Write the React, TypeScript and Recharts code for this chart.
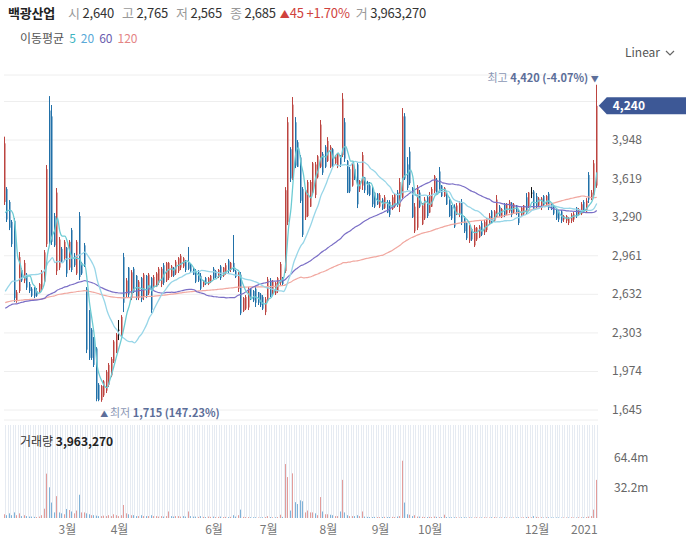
import React from "react";
import { ComposedChart, Bar, Line, XAxis, YAxis, CartesianGrid, ReferenceDot } from "recharts";

// 일봉 [시가, 고가, 저가, 종가]
const candles: [number, number, number, number][] = [
  [3420, 3977, 3394, 3920], [3530, 3547, 3249, 3270], [3420, 3436, 3180, 3200], [3250, 3266, 3036, 3060],
  [3260, 3283, 2566, 2600], [2580, 2669, 2560, 2650], [2660, 2993, 2643, 2950], [2840, 2856, 2737, 2750],
  [2750, 2925, 2728, 2900], [2800, 2814, 2669, 2690], [2720, 2737, 2643, 2660], [2680, 2694, 2609, 2620],
  [2680, 2694, 2600, 2615], [2660, 2686, 2610, 2620], [2650, 2728, 2643, 2720], [2690, 2839, 2669, 2820],
  [2740, 3010, 2728, 2990], [3060, 3735, 3036, 3700], [4200, 4323, 3053, 3100], [4150, 4247, 3053, 3080],
  [3300, 3326, 3036, 3050], [2830, 3539, 2797, 3500], [2860, 3121, 2839, 3100], [3020, 3036, 2899, 2910],
  [2940, 3095, 2925, 3080], [3030, 3036, 2780, 2810], [2860, 3095, 2839, 3080], [3180, 3198, 2822, 2840],
  [2960, 2985, 2865, 2880], [2810, 3095, 2797, 3080], [3300, 3334, 2754, 2780], [2900, 2908, 2797, 2810],
  [3050, 3070, 2865, 2880], [2680, 2694, 2131, 2160], [2480, 2498, 2072, 2090], [2330, 2344, 2072, 2090],
  [2250, 2268, 2012, 2030], [2170, 2182, 1720, 1740], [1860, 1875, 1720, 1730], [1730, 1858, 1715, 1850],
  [1770, 1900, 1756, 1890], [1810, 1986, 1790, 1970], [1860, 2046, 1841, 2030], [1940, 2097, 1926, 2080],
  [2060, 2242, 2046, 2230], [2140, 2302, 2131, 2290], [2330, 2413, 2242, 2330], [2290, 2455, 2268, 2440],
  [2950, 2985, 2481, 2560], [2640, 2771, 2609, 2750], [2860, 2865, 2609, 2630], [2600, 2839, 2583, 2820],
  [2850, 2865, 2643, 2650], [2790, 2797, 2583, 2600], [2600, 2754, 2583, 2740], [2770, 2780, 2566, 2590],
  [2610, 2814, 2583, 2800], [2790, 2797, 2600, 2620], [2640, 2814, 2626, 2800], [2770, 2780, 2473, 2500],
  [2690, 2797, 2686, 2780], [2700, 2822, 2694, 2810], [2730, 2865, 2711, 2850], [2720, 2865, 2694, 2850],
  [2880, 2899, 2711, 2730], [2750, 2908, 2737, 2900], [2770, 2908, 2754, 2900], [2790, 2882, 2780, 2870],
  [2860, 2865, 2780, 2790], [2810, 2925, 2797, 2910], [2830, 2950, 2814, 2940], [2860, 2976, 2839, 2960],
  [2870, 2950, 2856, 2940], [2910, 2925, 2822, 2840], [2900, 3036, 2839, 2850], [2890, 2899, 2814, 2830],
  [2850, 2865, 2797, 2800], [2830, 2848, 2728, 2740], [2820, 2839, 2737, 2750], [2790, 2814, 2669, 2680],
  [2710, 2754, 2694, 2750], [2770, 2780, 2711, 2720], [2720, 2780, 2711, 2770], [2740, 2797, 2728, 2790],
  [2850, 2865, 2754, 2770], [2830, 2839, 2771, 2780], [2780, 2848, 2771, 2840], [2870, 2882, 2754, 2770],
  [2790, 2865, 2780, 2860], [2810, 2899, 2800, 2880], [2920, 2933, 2814, 2830], [2840, 2908, 2822, 2900],
  [2900, 3138, 2822, 2830], [2830, 2839, 2771, 2780], [2680, 2822, 2652, 2810], [2800, 2822, 2455, 2470],
  [2490, 2609, 2481, 2600], [2510, 2626, 2498, 2610], [2520, 2694, 2498, 2680], [2680, 2686, 2583, 2600],
  [2660, 2669, 2566, 2580], [2680, 2694, 2524, 2560], [2650, 2652, 2541, 2560], [2630, 2643, 2524, 2540],
  [2610, 2626, 2498, 2510], [2480, 2609, 2455, 2590], [2580, 2780, 2566, 2760], [2750, 2771, 2609, 2620],
  [2640, 2754, 2626, 2740], [2640, 2737, 2626, 2730], [2660, 2780, 2643, 2770], [2730, 2908, 2711, 2890],
  [2770, 2780, 2711, 2720], [2830, 3547, 2814, 3520], [3250, 4144, 3223, 4100], [3870, 3888, 3590, 3620],
  [3630, 4315, 3607, 4250], [4100, 4144, 3709, 3730], [3930, 3948, 3718, 3720], [3800, 3820, 3411, 3430],
  [3530, 3547, 3121, 3140], [3290, 3539, 3266, 3520], [3300, 3607, 3291, 3590], [3380, 3607, 3377, 3590],
  [3500, 3761, 3479, 3750], [3480, 3761, 3453, 3740], [3630, 3820, 3620, 3810], [3720, 4119, 3709, 4080],
  [3830, 3846, 3650, 3670], [3890, 3905, 3709, 3720], [3770, 3973, 3761, 3940], [3720, 3905, 3710, 3890],
  [3870, 3880, 3709, 3720], [3750, 3820, 3735, 3810], [3730, 3837, 3709, 3830], [3810, 3820, 3718, 3740],
  [3820, 4349, 3803, 4300], [4100, 4136, 3761, 3790], [3770, 3778, 3496, 3500], [3700, 3718, 3496, 3510],
  [3560, 3752, 3550, 3740], [3700, 3718, 3607, 3620], [3740, 3752, 3368, 3400], [3530, 3607, 3505, 3600],
  [3560, 3846, 3522, 3820], [3630, 3633, 3496, 3520], [3590, 3600, 3479, 3490], [3560, 3590, 3470, 3480],
  [3540, 3547, 3377, 3400], [3500, 3505, 3368, 3380], [3490, 3496, 3394, 3400], [3380, 3496, 3368, 3480],
  [3440, 3453, 3351, 3360], [3370, 3479, 3360, 3460], [3420, 3436, 3325, 3330], [3420, 3436, 3291, 3310],
  [3360, 3479, 3351, 3460], [3380, 3496, 3370, 3480], [3500, 3522, 3377, 3400], [3380, 3624, 3334, 3590],
  [3460, 4221, 3450, 4150], [4150, 4178, 3607, 3620], [3740, 3803, 3522, 3540], [3850, 3888, 3564, 3580],
  [3540, 3547, 3283, 3290], [3170, 3411, 3155, 3380], [3200, 3564, 3180, 3540], [3500, 3522, 3368, 3380],
  [3230, 3411, 3223, 3390], [3280, 3462, 3266, 3440], [3460, 3479, 3283, 3300], [3330, 3505, 3325, 3480],
  [3380, 3547, 3377, 3530], [3510, 3650, 3496, 3640], [3610, 3624, 3479, 3490], [3680, 3718, 3496, 3500],
  [3560, 3564, 3462, 3470], [3470, 3547, 3462, 3540], [3480, 3496, 3394, 3400], [3430, 3462, 3291, 3300],
  [3380, 3394, 3266, 3280], [3380, 3400, 3198, 3210], [3320, 3411, 3308, 3390], [3320, 3428, 3291, 3410],
  [3420, 3445, 3223, 3240], [3290, 3300, 3155, 3170], [3240, 3245, 3095, 3110], [3090, 3223, 3070, 3210],
  [3190, 3198, 3087, 3100], [3050, 3223, 3036, 3200], [3100, 3206, 3087, 3200], [3120, 3223, 3112, 3210],
  [3240, 3257, 3129, 3140], [3160, 3266, 3138, 3250], [3180, 3283, 3163, 3270], [3230, 3325, 3223, 3300],
  [3340, 3351, 3240, 3250], [3260, 3351, 3249, 3340], [3290, 3479, 3283, 3440], [3380, 3394, 3291, 3300],
  [3290, 3368, 3283, 3360], [3400, 3411, 3291, 3300], [3320, 3411, 3308, 3400], [3340, 3436, 3325, 3420],
  [3410, 3419, 3291, 3310], [3330, 3411, 3325, 3400], [3390, 3394, 3308, 3320], [3340, 3351, 3223, 3240],
  [3300, 3377, 3291, 3370], [3320, 3394, 3308, 3390], [3460, 3496, 3317, 3330], [3370, 3505, 3368, 3500],
  [3500, 3547, 3453, 3500], [3510, 3522, 3351, 3360], [3470, 3496, 3368, 3380], [3390, 3462, 3377, 3450],
  [3370, 3462, 3351, 3450], [3470, 3479, 3377, 3390], [3390, 3479, 3377, 3470], [3490, 3505, 3351, 3370],
  [3400, 3411, 3351, 3360], [3380, 3394, 3308, 3320], [3350, 3355, 3266, 3280], [3340, 3351, 3249, 3270],
  [3340, 3351, 3240, 3260], [3270, 3308, 3249, 3300], [3260, 3308, 3240, 3300], [3240, 3291, 3223, 3280],
  [3260, 3325, 3240, 3310], [3270, 3334, 3249, 3320], [3370, 3377, 3283, 3300], [3320, 3368, 3308, 3360],
  [3320, 3419, 3308, 3400], [3420, 3436, 3325, 3340], [3340, 3453, 3334, 3430], [3650, 3675, 3411, 3440],
  [3450, 3522, 3436, 3500], [3480, 3778, 3462, 3750], [3560, 4420, 3540, 4240],
];

// 거래량 (백만 주)
const volumes = [
  4, 3, 5, 3, 6, 3, 5, 2, 3, 2, 1.5, 1.5, 1.2, 1, 1.5, 3, 10,
  47.7, 33, 16.6, 6, 23.5, 6, 5, 4, 9.7, 8.6, 7, 5, 8, 25, 6, 6, 5, 4,
  3, 3, 2.5, 2, 2, 2.5, 2, 3, 2, 4, 3, 2, 3,
  14, 5, 4, 3, 3, 2, 2, 3, 2, 2, 2, 3,
  2, 2, 1.5, 2, 1.5, 2, 7, 2, 1.5, 2, 2, 1.5, 2, 1.5, 7, 2, 1.5, 1.5, 1.2, 2,
  1.2, 1, 1.5, 1.2, 1.5, 1, 1.2, 1.5, 1, 1.2, 1, 1.2, 3, 1.5,
  3, 9, 1.2, 1, 1, 0.8, 0.8, 0.8, 0.6, 0.6, 0.8, 1, 2, 1, 0.8, 0.8, 1, 3.5, 1.2,
  58, 44, 8, 48, 17, 15, 19, 18, 6, 8, 6, 6, 5, 3, 22.5, 7, 4, 4, 3.5, 3, 2, 2, 7,
  41, 6, 3, 2, 2, 2, 3, 2, 7, 1.5, 1.2, 1, 1, 1.2, 1, 1, 1, 1.2, 1, 1, 1.2, 1, 1.5, 2, 61.6, 16.6,
  4, 3.5, 2, 3, 1.5, 1.5, 1.2, 1, 1, 1.2, 1, 1.5, 1.2, 1, 1, 3.5,
  1, 0.8, 0.8, 0.8, 0.8, 0.6, 0.8, 0.8, 0.6, 0.8, 0.6, 0.6, 0.8, 0.6, 0.6, 0.8, 0.6, 0.6, 0.8, 1,
  0.6, 0.6, 0.6, 0.8, 0.6, 0.6, 0.5, 0.6, 0.6, 0.8, 0.6, 0.8, 1, 1.2, 0.8,
  2, 1.2, 0.8, 0.8, 0.6, 0.8, 0.8, 0.6, 0.6, 0.6, 0.6, 0.5, 0.6, 0.6, 0.6, 0.8, 0.6, 0.6, 0.8, 0.8,
  0.8, 1, 1.5, 2, 9, 41,
];

const monthTicks = [25, 46, 84, 106, 130, 151, 171, 214, 233];
const monthLabels = ["3월", "4월", "6월", "7월", "8월", "9월", "10월", "12월", "2021"];
const priceTicks = [1645, 1974, 2303, 2632, 2961, 3290, 3619, 3948, 4277];
const volTicks = [32.2, 64.4];

// 이동평균: 기간, 차트 시작 전 평균 수준, 색
const maPeriods = [5, 20, 60, 120];
const maSeeds = [3180, 2590, 2490, 2550];
const maColors = ["#6ccbd3", "#98d6e8", "#7b6fc6", "#f1a8a0"];
const legendColors = ["#3db4bf", "#5aa9d8", "#6a5cae", "#e48585"];

const lastPrice = 4240;
const highMark = { idx: 238, price: 4420, label: "4,420 (-4.07%)" };
const lowMark = { idx: 39, price: 1715, label: "1,715 (147.23%)" };

const UP = "#bc4440";
const DOWN = "#2170a8";
const FONT = '"Noto Sans CJK KR", "Noto Sans", sans-serif';

const movingAvg = (period: number, seed: number) =>
  candles.map((_, i) => {
    let sum = 0;
    for (let k = i - period + 1; k <= i; k++) sum += k < 0 ? seed : candles[k][3];
    return sum / period;
  });

const mas = maPeriods.map((p, j) => movingAvg(p, maSeeds[j]));

const rows = candles.map(([o, h, l, c], i) => ({
  idx: i,
  o, h, l, c,
  range: [l, h],
  vol: volumes[i],
  volUp: i === 0 ? c >= o : c >= candles[i - 1][3],
  ma5: mas[0][i],
  ma20: mas[1][i],
  ma60: mas[2][i],
  ma120: mas[3][i],
}));

const W = 686;
const AXIS_W = 88;
const LEFT = 4;
const plotRight = W - AXIS_W;
const band = (plotRight - LEFT) / candles.length;
const stripes = candles.map((_, i) => Math.round(LEFT + (i + 0.5) * band) + 0.5);

const Candle = (p: any) => {
  const { x, y, width, height, payload } = p;
  const top = Math.min(y, y + height);
  const hgt = Math.abs(height);
  const span = payload.h - payload.l || 1;
  const py = (v: number) => top + ((payload.h - v) / span) * hgt;
  const cx = Math.round(x + width / 2);
  const color = payload.c > payload.o ? UP : payload.c < payload.o ? DOWN : "#111";
  const bTop = py(Math.max(payload.o, payload.c));
  const bBot = py(Math.min(payload.o, payload.c));
  return (
    <g>
      <line x1={cx - 0.5} x2={cx - 0.5} y1={top} y2={top + hgt} stroke={color} strokeWidth={1} />
      <rect x={cx - 1} y={bTop} width={1.5} height={Math.max(1, bBot - bTop)} fill={color} />
    </g>
  );
};

const VolBar = (p: any) => {
  const { x, y, width, height, payload } = p;
  const cx = Math.round(x + width / 2);
  return (
    <rect x={cx - 1} y={Math.min(y, y + height)} width={1} height={Math.abs(height)}
      fill={payload.volUp ? "#e39c9a" : "#7fb2d8"} />
  );
};

const PriceTick = (p: any) => {
  if (p.payload.value === 4277) return null;
  return (
    <text x={plotRight + 14} y={p.y + 4} fontSize={12} fill="#666" fontFamily={FONT}>
      {p.payload.value.toLocaleString("en-US")}
    </text>
  );
};

const VolTick = (p: any) => (
  <text x={plotRight + 16} y={p.y + 4} fontSize={12} fill="#666" fontFamily={FONT}>
    {p.payload.value}m
  </text>
);

const MonthTick = (p: any) => (
  <text x={p.x} y={114} textAnchor="middle" fontSize={12} fill="#777" fontFamily={FONT}>
    {monthLabels[monthTicks.indexOf(p.payload.value)]}
  </text>
);

const HighLabel = (p: any) => (
  <text x={p.cx + 2} y={p.cy - 3} textAnchor="end" fontSize={11} fontFamily={FONT}>
    <tspan fill="#8b97b5">최고 </tspan>
    <tspan fill="#5c6e99" fontWeight="bold">{highMark.label} </tspan>
    <tspan fill="#5c6e99" fontSize={8}>▼</tspan>
  </text>
);

const LowLabel = (p: any) => (
  <text x={p.cx - 2} y={p.cy + 15} fontSize={11} fontFamily={FONT}>
    <tspan fill="#5c6e99" fontSize={8}>▲ </tspan>
    <tspan fill="#8b97b5">최저 </tspan>
    <tspan fill="#5c6e99" fontWeight="bold">{lowMark.label}</tspan>
  </text>
);

const PriceTag = (p: any) => {
  const { cx, cy } = p;
  const x0 = cx + 2;
  return (
    <g>
      <path d={`M${x0},${cy} L${x0 + 8},${cy - 8.5} L${W},${cy - 8.5} L${W},${cy + 8.5} L${x0 + 8},${cy + 8.5} Z`}
        fill="#3d5896" />
      <text x={x0 + 14} y={cy + 4.5} fontSize={12} fontWeight="bold" fill="#fff" fontFamily={FONT}>
        {lastPrice.toLocaleString("en-US")}
      </text>
    </g>
  );
};

const gray = { color: "#999" };

export default function App() {
  return (
    <div style={{ position: "relative", width: W, height: 546, background: "#fff", fontFamily: FONT, overflow: "hidden" }}>
      <style>{"body{margin:0}"}</style>
      <div style={{ position: "absolute", left: 8, top: 4, fontSize: 13, lineHeight: "18px", whiteSpace: "nowrap", color: "#333", letterSpacing: -0.2 }}>
        <b style={{ color: "#222" }}>백광산업</b>
        <span style={{ ...gray, marginLeft: 13 }}>시</span> 2,640
        <span style={{ ...gray, marginLeft: 8 }}>고</span> 2,765
        <span style={{ ...gray, marginLeft: 8 }}>저</span> 2,565
        <span style={{ ...gray, marginLeft: 8 }}>종</span> 2,685
        <span style={{ color: "#d0423d", marginLeft: 4 }}><span style={{ fontSize: 10 }}>▲</span>45 +1.70%</span>
        <span style={{ ...gray, marginLeft: 6 }}>거</span> 3,963,270
      </div>
      <div style={{ position: "absolute", left: 20, top: 29, fontSize: 12, lineHeight: "18px", color: "#555", whiteSpace: "nowrap" }}>
        이동평균
        {maPeriods.map((p, j) => (
          <span key={p} style={{ color: legendColors[j], marginLeft: 5 }}>{p}</span>
        ))}
      </div>
      <div style={{ position: "absolute", left: 625, top: 43, fontSize: 12, lineHeight: "18px", color: "#555" }}>
        Linear
        <svg width={10} height={8} style={{ marginLeft: 5 }}>
          <polyline points="1,2 5,6 9,2" fill="none" stroke="#666" strokeWidth={1.2} />
        </svg>
      </div>

      <div style={{ position: "absolute", left: 0, top: 0 }}>
        <ComposedChart width={W} height={425} data={rows} margin={{ top: 75, right: 0, bottom: 5, left: LEFT }}
          barCategoryGap={0} barGap={0}>
          <CartesianGrid vertical={false} stroke="#eeeeee" />
          <XAxis dataKey="idx" hide />
          <YAxis orientation="right" width={AXIS_W} domain={[1560, 4503]} ticks={priceTicks}
            allowDataOverflow axisLine={false} tickLine={false} tick={<PriceTick />} />
          <Bar dataKey="range" shape={<Candle />} isAnimationActive={false} />
          <Line dataKey="ma120" stroke={maColors[3]} dot={false} strokeWidth={1.2} type="monotone" isAnimationActive={false} />
          <Line dataKey="ma60" stroke={maColors[2]} dot={false} strokeWidth={1.2} type="monotone" isAnimationActive={false} />
          <Line dataKey="ma20" stroke={maColors[1]} dot={false} strokeWidth={1.3} type="monotone" isAnimationActive={false} />
          <Line dataKey="ma5" stroke={maColors[0]} dot={false} strokeWidth={1.3} type="monotone" isAnimationActive={false} />
          <ReferenceDot x={highMark.idx} y={highMark.price} r={0} shape={<HighLabel />} />
          <ReferenceDot x={lowMark.idx} y={lowMark.price} r={0} shape={<LowLabel />} />
          <ReferenceDot x={highMark.idx} y={lastPrice} r={0} shape={<PriceTag />} />
        </ComposedChart>
      </div>

      <div style={{ position: "absolute", left: 0, top: 420 }}>
        <ComposedChart width={W} height={126} data={rows} margin={{ top: 5, right: 0, bottom: 0, left: LEFT }}
          barCategoryGap={0} barGap={0}>
          <CartesianGrid horizontal={false} verticalPoints={stripes} stroke="#e6ebf2" />
          <XAxis dataKey="idx" ticks={monthTicks} interval={0} height={28} axisLine={false} tickLine={false} tick={<MonthTick />} />
          <YAxis orientation="right" width={AXIS_W} domain={[0, 100]} ticks={volTicks}
            axisLine={false} tickLine={false} tick={<VolTick />} />
          <Bar dataKey="vol" shape={<VolBar />} isAnimationActive={false} />
        </ComposedChart>
      </div>
      <div style={{ position: "absolute", left: 20, top: 432, fontSize: 12, lineHeight: "18px", color: "#333", whiteSpace: "nowrap" }}>
        거래량 <b style={{ color: "#222" }}>3,963,270</b>
      </div>
    </div>
  );
}
